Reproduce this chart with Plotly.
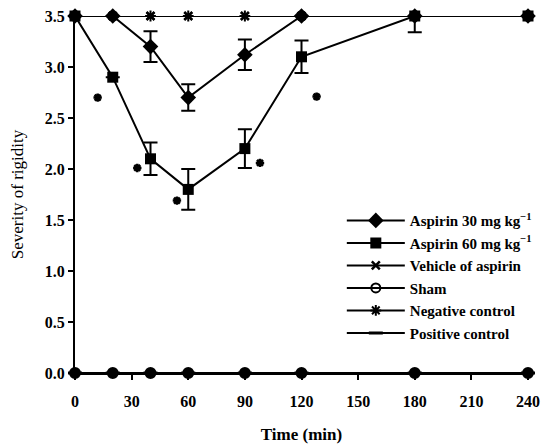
import plotly.graph_objects as go

times = [0, 20, 40, 60, 90, 120, 180, 240]
asp30 = [3.5, 3.5, 3.2, 2.7, 3.12, 3.5, 3.5, 3.5]
asp30_err = [0, 0, 0.15, 0.13, 0.15, 0, 0, 0]
asp60 = [3.5, 2.9, 2.1, 1.8, 2.2, 3.1, 3.5, 3.5]
asp60_err = [0, 0, 0.16, 0.2, 0.19, 0.16, 0.16, 0]
asp60_err_plus = [0, 0, 0.16, 0.2, 0.19, 0.16, 0, 0]
vehicle = [3.5] * 8
sham = [0.0] * 8
negative = [3.5] * 8
positive = [0.0] * 8

sig_x = [12, 33, 54, 98, 128]
sig_y = [2.70, 2.01, 1.69, 2.06, 2.71]

x_ticks = [0, 30, 60, 90, 120, 150, 180, 210, 240]
y_ticks = [0.0, 0.5, 1.0, 1.5, 2.0, 2.5, 3.0, 3.5]

FONT = "Liberation Serif"
fig = go.Figure()

def err(vals, plus=None):
    return dict(type="data", array=plus if plus is not None else vals, arrayminus=vals,
                color="black", thickness=2, width=7, visible=True)

fig.add_trace(go.Scatter(x=times, y=asp30, name="Aspirin 30 mg kg<sup>−1</sup>",
                         mode="lines+markers", line=dict(color="black", width=2),
                         marker=dict(symbol="diamond", size=12, color="black"),
                         error_y=err(asp30_err), cliponaxis=False))
fig.add_trace(go.Scatter(x=times, y=asp60, name="Aspirin 60 mg kg<sup>−1</sup>",
                         mode="lines+markers", line=dict(color="black", width=2),
                         marker=dict(symbol="square", size=11, color="black"),
                         error_y=err(asp60_err, asp60_err_plus), cliponaxis=False))
fig.add_trace(go.Scatter(x=times, y=vehicle, name="Vehicle of aspirin",
                         mode="lines+markers", line=dict(color="black", width=2),
                         marker=dict(symbol="x-thin", size=8, color="black",
                                     line=dict(color="black", width=2.5)), cliponaxis=False))
fig.add_trace(go.Scatter(x=times, y=sham, name="Sham",
                         mode="lines+markers", line=dict(color="black", width=2),
                         marker=dict(symbol="circle", size=10, color="black",
                                     line=dict(color="black", width=2)), cliponaxis=False,
                         showlegend=False))
fig.add_trace(go.Scatter(x=[None], y=[None], name="Sham",
                         mode="lines+markers", line=dict(color="black", width=2),
                         marker=dict(symbol="circle-open", size=9, color="black",
                                     line=dict(color="black", width=2))))
fig.add_trace(go.Scatter(x=times, y=negative, name="Negative control",
                         mode="lines+markers", line=dict(color="black", width=2),
                         marker=dict(symbol="asterisk-open", size=9, color="black",
                                     line=dict(color="black", width=2)), cliponaxis=False))
fig.add_trace(go.Scatter(x=times, y=positive, name="Positive control",
                         mode="lines+markers", line=dict(color="black", width=2),
                         marker=dict(symbol="line-ew-open", size=10, color="black",
                                     line=dict(color="black", width=3)), cliponaxis=False))

fig.add_trace(go.Scatter(x=sig_x, y=sig_y, mode="markers", showlegend=False,
                         marker=dict(symbol="asterisk-open", size=7, color="black",
                                     line=dict(color="black", width=2.5)),
                         hoverinfo="skip"))

axis_common = dict(showline=True, linecolor="black", linewidth=2, ticks="outside",
                   tickwidth=2, ticklen=5, tickcolor="black", showgrid=False, zeroline=False,
                   automargin=False, ticklabeloverflow="allow",
                   tickfont=dict(family=FONT, size=16, color="black", weight="bold"))

fig.update_layout(
    width=556, height=446,
    margin=dict(l=67, r=36, t=8, b=81),
    plot_bgcolor="white", paper_bgcolor="white",
    font=dict(family=FONT, size=16, color="black"),
    xaxis=dict(range=[0, 240], tickvals=x_ticks, ticklabelstandoff=8,
               title=dict(text="Time (min)", standoff=19,
                          font=dict(family=FONT, size=17, color="black", weight="bold")),
               **axis_common),
    yaxis=dict(range=[0, 3.5], tickvals=y_ticks, tickformat=".1f",
               title=dict(text="Severity of rigidity", standoff=17,
                          font=dict(family=FONT, size=17, color="black")), **axis_common),
    legend=dict(x=0.589, y=0.473, xanchor="left", yanchor="top", bgcolor="rgba(0,0,0,0)",
                font=dict(family=FONT, size=15, color="black", weight="bold"),
                tracegroupgap=0, itemwidth=58),
    showlegend=True,
)

fig.write_html("out.html")
